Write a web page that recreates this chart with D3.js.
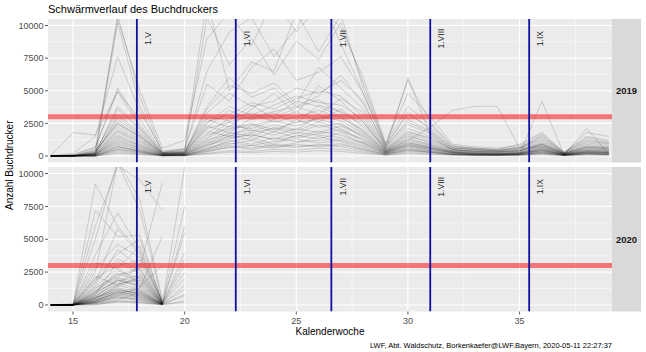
<!DOCTYPE html>
<meta charset="utf-8">
<head>
    <title>Schwärmverlauf des Buchdruckers</title>
</head>
<style>
    body { margin: 0; background: #fff; }
    * { font-family: 'Liberation Sans', Arial, sans-serif; }
    .tick-label { font-size: 9px; fill: #4d4d4d; }
    .axis-title { font-size: 10px; fill: #000; }
    .strip-text { font-size: 9.5px; font-weight: bold; fill: #1a1a1a; }
    .month-text { font-size: 8.5px; fill: #1a1a1a; }
</style>
<body>
<svg id="chart" width="646" height="352"></svg>
<script src="https://d3js.org/d3.v7.min.js"></script>
<script>
// Kalenderwochen
const weeks2019 = [14, 15, 16, 17, 18, 19, 20, 21, 22, 23, 24, 25, 26, 27, 28, 29, 30, 31, 32, 33, 34, 35, 36, 37, 38, 39];
const weeks2020 = [14, 15, 16, 17, 18, 19, 20];

// Fallen 2019 (Käfer je Kontrolle)
const traps2019 = [
    [0,0,100,1200,600,80,120,900,1800,1500,2200,1900,2600,2100,1200,300,900,600,250,150,120,180,450,90,300,250],
    [0,20,300,2500,1400,150,200,2200,3500,2800,3100,4200,3800,3000,1800,400,1500,1100,400,300,250,350,800,150,600,500],
    [0,0,50,800,300,40,60,600,1100,1400,900,1600,1300,1800,900,200,700,400,150,100,90,120,300,60,200,150],
    [0,100,600,5200,2400,200,300,3800,6000,4500,5200,3800,4600,6200,4000,700,2600,1800,600,500,400,600,1200,200,1000,800],
    [0,0,0,400,200,20,30,300,700,500,800,650,900,700,400,100,350,250,100,60,50,80,200,40,150,100],
    [0,50,400,3200,1800,250,350,2800,2200,3600,4800,3200,5400,4200,2600,500,1900,1300,500,350,300,400,900,180,700,600],
    [0,0,200,10800,4500,300,600,12000,5000,7200,6500,11000,8000,10800,5200,900,3800,2400,800,600,500,700,1500,250,1300,1000],
    [0,0,100,1800,1000,120,180,1400,2600,1900,2400,2000,3100,2700,1700,350,1100,700,300,200,160,230,600,110,380,300],
    [0,30,150,2200,1300,90,150,1900,1500,2300,2800,3400,2600,3600,2200,400,1400,900,350,250,200,280,700,130,500,420],
    [0,0,0,600,350,30,50,450,900,1200,700,1000,1500,1100,600,150,500,300,120,80,70,100,250,50,180,120],
    [0,200,1500,7600,3400,400,500,5500,4200,6800,8200,5800,6400,7600,4800,800,3200,2200,700,600,500,900,1800,300,1500,1200],
    [0,0,80,1500,800,100,120,1100,2000,2400,1800,2800,2200,2500,1400,300,1000,650,280,170,140,200,520,100,350,280],
    [0,0,300,2800,1600,200,250,2600,3200,4100,3600,4400,5000,4600,3000,550,2100,1500,500,400,330,450,1000,190,800,650],
    [0,0,0,300,150,10,20,200,400,350,500,450,600,500,300,80,250,180,80,50,40,60,150,30,100,80],
    [0,1800,1600,4900,2200,300,400,3000,2700,3900,2900,3700,4300,3300,2400,500,1700,1200,450,320,280,380,850,170,650,550],
    [0,0,120,1000,500,60,90,800,1300,1700,1200,1500,1900,1600,1000,220,750,500,200,130,110,150,380,80,250,200],
    [0,0,500,10500,5000,600,1200,9000,11000,8500,12000,9500,11500,9800,6000,1000,4800,3000,900,700,600,800,1700,280,1400,1100],
    [0,0,50,900,450,50,70,700,1600,1200,1900,1400,1700,2000,1100,250,800,550,230,140,120,160,420,90,280,220],
    [0,40,250,3600,2000,180,300,3300,4800,3800,4200,5200,4800,5800,4200,600,2400,1700,550,450,370,500,1100,200,900,700],
    [0,0,0,700,400,40,60,550,1000,800,1100,1300,1000,1200,700,170,550,350,140,90,80,110,280,60,190,140],
    [0,0,200,2000,1200,150,200,1700,2900,3300,2600,3000,3500,2900,2000,380,1300,850,330,230,190,260,650,120,450,380],
    [0,80,700,5000,2800,250,400,10600,7000,9000,6200,8800,7400,10200,5600,850,5800,2600,750,550,450,650,1400,240,1100,900],
    [0,0,100,1300,700,80,100,1000,1500,1800,2100,1700,2400,1900,1300,280,900,600,260,160,130,190,480,95,320,260],
    [0,0,30,500,250,25,40,400,800,600,900,750,800,950,500,120,420,280,110,70,60,90,220,45,160,110],
    [0,0,400,2400,1500,200,250,2300,1800,2900,3300,2500,3900,3400,2600,450,1600,1000,380,280,220,300,750,140,550,450],
    [0,0,0,10200,3800,250,500,6500,9500,10600,7600,9800,12500,8600,4800,700,3400,2000,650,500,420,600,1300,220,1200,950],
    [0,60,200,1600,900,110,160,1300,2300,2100,2700,2300,2900,3200,1900,360,1200,800,320,210,170,250,580,115,420,350],
    [0,0,150,3000,1700,170,220,2500,3800,3100,3900,4600,4100,3900,2800,480,1800,1400,480,380,320,420,950,180,750,620],
    [0,0,0,200,100,10,15,150,300,250,350,300,400,350,200,60,180,120,60,40,30,50,110,25,80,60],
    [0,0,80,1100,600,70,110,850,1400,1600,1300,1800,1600,1400,1000,230,800,520,210,140,115,170,400,85,270,210],
    [0,0,250,2600,1500,170,230,2100,2600,3000,3400,3800,3200,4400,3300,520,6000,1600,450,350,300,400,900,180,650,550],
    [0,0,50,700,400,50,60,500,1200,900,1400,1100,1200,1300,800,200,600,400,170,110,90,130,330,70,210,170],
    [0,0,100,1900,1100,130,170,1600,2100,2500,2000,2600,2800,2400,1600,340,1200,2200,3500,3800,3800,600,700,150,450,360],
    [0,0,0,500,300,30,40,350,650,800,600,900,700,850,500,130,450,300,120,80,70,100,4200,60,2100,140],
    [0,0,200,3800,2100,220,280,3600,5400,4800,5600,4000,6800,5200,3600,650,2800,1900,600,480,400,550,1600,210,1800,1500],
    [0,20,100,1400,800,90,140,1200,1700,2000,1600,2100,1800,2300,1500,300,1000,700,280,180,150,210,500,100,340,280]
];

// Fallen 2020 (null = keine Kontrolle)
const traps2020 = [
    [0,0,300,800,600,50,null],
    [0,0,1200,2400,1800,100,null],
    [0,20,500,1500,2200,80,1200],
    [0,0,9200,6000,4000,200,null],
    [0,0,7200,5200,5300,150,null],
    [0,0,200,600,400,30,null],
    [0,50,1800,3500,2600,120,3000],
    [0,0,100,400,900,40,null],
    [0,0,2500,10800,7200,300,null],
    [0,0,600,1200,800,60,700],
    [0,0,0,300,200,20,null],
    [0,100,3200,2800,4500,250,null],
    [0,0,800,2000,1500,90,5500],
    [0,0,400,900,1100,70,null],
    [0,0,1500,4200,2900,9300,null],
    [0,0,200,700,500,40,300],
    [0,0,1000,1800,2300,110,null],
    [0,0,5000,11000,8000,400,null],
    [0,0,300,1000,700,50,10500],
    [0,0,700,1600,1900,80,null],
    [0,0,150,500,350,30,null],
    [0,30,2000,3000,3400,150,7500],
    [0,0,500,1300,1000,60,null],
    [0,0,900,2600,2000,100,null],
    [0,0,250,800,1300,5200,null],
    [0,0,3800,7000,4200,200,null],
    [0,0,100,300,250,20,200],
    [0,0,1300,2200,2700,130,null],
    [0,0,600,1900,1400,80,2500],
    [0,0,450,1100,900,70,null],
    [0,0,1700,5800,3800,250,null],
    [0,0,350,900,600,40,1500],
    [0,0,2200,1500,3100,140,null],
    [0,0,800,3300,2400,120,null],
    [0,0,50,200,150,10,null],
    [0,0,1100,2100,1700,90,4000],
    [0,0,400,1400,2100,100,null],
    [0,0,6000,10600,9500,7200,null],
    [0,0,200,700,1000,50,800],
    [0,0,1400,2800,1600,110,null],
    [0,0,700,1700,1200,70,null],
    [0,0,300,1200,800,60,6000],
    [0,0,2800,4600,3600,180,null],
    [0,0,150,600,450,30,null],
    [0,0,1000,2300,2800,120,2000],
    [null,0,500,1500,1100,70,null],
    [null,0,2000,3900,5000,200,null],
    [0,0,250,1000,700,50,3500],
    [0,0,900,1900,1400,3000,null],
    [0,0,600,1000,1300,80,null]
];

// Monatsanfaenge (in Kalenderwochen) und Schwellenwert
const monthWeeks = [17.86, 22.29, 26.57, 31.0, 35.43];
const monthLabels = ["1.V", "1.VI", "1.VII", "1.VIII", "1.IX"];
const threshold = 3000;
const yTicks = [0, 2500, 5000, 7500, 10000];
const yMinor = [1250, 3750, 6250, 8750];
const xTicks = [15, 20, 25, 30, 35];
const xMinor = [17.5, 22.5, 27.5, 32.5, 37.5];

const panels = [
    { year: "2019", weeks: weeks2019, traps: traps2019, top: 19, bottom: 162.5 },
    { year: "2020", weeks: weeks2020, traps: traps2020, top: 167, bottom: 311.5 }
];

const chart = d3.select("#chart");
const panelLeft = 48;
const panelRight = 612;
const stripWidth = 29;

const xScale = d3.scaleLinear().domain([13.88, 39.14]).range([panelLeft, panelRight]);

chart.append("text")
    .attr("x", panelLeft)
    .attr("y", 13)
    .style("font-size", "11px")
    .style("fill", "#000")
    .text("Schwärmverlauf des Buchdruckers");

panels.forEach((p, pi) => {
    const yScale = d3.scaleLinear().domain([-500, 10500]).range([p.bottom, p.top]);
    const g = chart.append("g");

    //background
    g.append("rect")
        .attr("x", panelLeft).attr("y", p.top)
        .attr("width", panelRight - panelLeft).attr("height", p.bottom - p.top)
        .style("fill", "#ebebeb");

    //grid
    g.selectAll(".ymin").data(yMinor).enter().append("line")
        .attr("x1", panelLeft).attr("x2", panelRight)
        .attr("y1", d => yScale(d)).attr("y2", d => yScale(d))
        .style("stroke", "#fff").style("stroke-width", 0.5);
    g.selectAll(".xmin").data(xMinor).enter().append("line")
        .attr("x1", d => xScale(d)).attr("x2", d => xScale(d))
        .attr("y1", p.top).attr("y2", p.bottom)
        .style("stroke", "#fff").style("stroke-width", 0.5);
    g.selectAll(".ymaj").data(yTicks).enter().append("line")
        .attr("x1", panelLeft).attr("x2", panelRight)
        .attr("y1", d => yScale(d)).attr("y2", d => yScale(d))
        .style("stroke", "#fff").style("stroke-width", 1.1);
    g.selectAll(".xmaj").data(xTicks).enter().append("line")
        .attr("x1", d => xScale(d)).attr("x2", d => xScale(d))
        .attr("y1", p.top).attr("y2", p.bottom)
        .style("stroke", "#fff").style("stroke-width", 1.1);

    //clip
    const clipId = "clip" + pi;
    chart.append("clipPath").attr("id", clipId)
        .append("rect")
        .attr("x", panelLeft).attr("y", p.top)
        .attr("width", panelRight - panelLeft).attr("height", p.bottom - p.top);

    const inner = g.append("g").attr("clip-path", "url(#" + clipId + ")");

    const line = d3.line()
        .defined(d => d.v !== null)
        .x(d => xScale(d.w))
        .y(d => yScale(d.v));

    inner.selectAll(".trap").data(p.traps).enter().append("path")
        .attr("d", vals => line(vals.map((v, i) => ({ w: p.weeks[i], v: v }))))
        .style("fill", "none")
        .style("stroke", "#000")
        .style("stroke-opacity", 0.2)
        .style("stroke-width", 0.75);

    //threshold band
    inner.append("line")
        .attr("x1", panelLeft).attr("x2", panelRight)
        .attr("y1", yScale(threshold)).attr("y2", yScale(threshold))
        .style("stroke", "#ff0000").style("stroke-opacity", 0.5).style("stroke-width", 5);

    //month lines
    inner.selectAll(".month").data(monthWeeks).enter().append("line")
        .attr("x1", d => xScale(d)).attr("x2", d => xScale(d))
        .attr("y1", p.top).attr("y2", p.bottom)
        .style("stroke", "#1010a0").style("stroke-width", 1.8);

    inner.selectAll(".mtext").data(monthWeeks).enter().append("text")
        .attr("class", "month-text")
        .attr("text-anchor", "middle")
        .attr("dominant-baseline", "central")
        .attr("transform", d => "translate(" + xScale(d + 0.5) + "," + yScale(9000) + ")rotate(-90)")
        .text((d, i) => monthLabels[i]);

    //y axis
    g.selectAll(".ytick").data(yTicks).enter().append("line")
        .attr("x1", panelLeft - 3).attr("x2", panelLeft)
        .attr("y1", d => yScale(d)).attr("y2", d => yScale(d))
        .style("stroke", "#333").style("stroke-width", 0.8);
    g.selectAll(".ylab").data(yTicks).enter().append("text")
        .attr("class", "tick-label")
        .attr("x", panelLeft - 4.5)
        .attr("y", d => yScale(d))
        .attr("dy", "0.35em")
        .attr("text-anchor", "end")
        .text(d => d);

    //strip
    g.append("rect")
        .attr("x", panelRight).attr("y", p.top)
        .attr("width", stripWidth).attr("height", p.bottom - p.top)
        .style("fill", "#d9d9d9");
    g.append("text")
        .attr("class", "strip-text")
        .attr("x", panelRight + stripWidth / 2)
        .attr("y", (p.top + p.bottom) / 2)
        .attr("dy", "0.35em")
        .attr("text-anchor", "middle")
        .text(p.year);
});

//x axis
const bottomY = panels[1].bottom;
chart.selectAll(".xtick").data(xTicks).enter().append("line")
    .attr("x1", d => xScale(d)).attr("x2", d => xScale(d))
    .attr("y1", bottomY).attr("y2", bottomY + 3)
    .style("stroke", "#333").style("stroke-width", 0.8);
chart.selectAll(".xlab").data(xTicks).enter().append("text")
    .attr("class", "tick-label")
    .attr("x", d => xScale(d))
    .attr("y", bottomY + 12)
    .attr("text-anchor", "middle")
    .text(d => d);

chart.append("text")
    .attr("class", "axis-title")
    .attr("x", (panelLeft + panelRight) / 2)
    .attr("y", 335)
    .attr("text-anchor", "middle")
    .text("Kalenderwoche");

chart.append("text")
    .attr("class", "axis-title")
    .attr("transform", "translate(12.5," + (panels[0].top + panels[1].bottom) / 2 + ")rotate(-90)")
    .attr("text-anchor", "middle")
    .text("Anzahl Buchdrucker");

chart.append("text")
    .attr("x", panelRight)
    .attr("y", 348)
    .attr("text-anchor", "end")
    .style("font-size", "7.5px")
    .style("fill", "#000")
    .text("LWF, Abt. Waldschutz, Borkenkaefer@LWF.Bayern, 2020-05-11 22:27:37");
</script>
</body>
</html>
